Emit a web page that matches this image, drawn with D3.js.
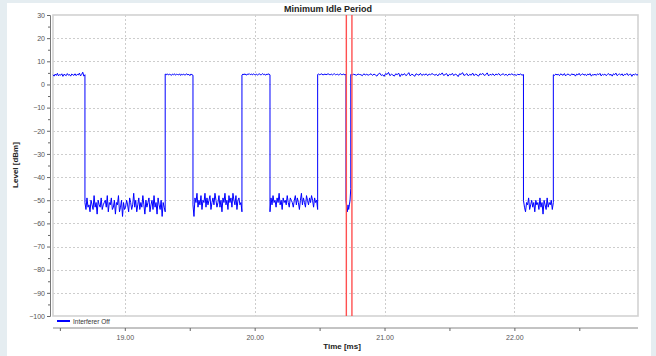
<!DOCTYPE html>
<html><head><meta charset="utf-8">
<script src="https://cdn.jsdelivr.net/npm/d3@7"></script>
<style>
html,body{margin:0;padding:0;background:#e5edf1;}
svg{display:block;font-family:"Liberation Sans",Arial,sans-serif;}
</style></head>
<body>
<svg id="chart" width="656" height="356"></svg>
<script>
// ---- data ----
const title = "Minimum Idle Period";
const xLabel = "Time [ms]";
const yLabel = "Level [dBm]";
const seriesName = "Interferer Off";
const xDomain = [18.447, 22.952];
const yDomain = [-100, 30];
const xTicks = [19, 20, 21, 22];
const xMinorTicks = [18.5, 19.5, 20.5, 21.5, 22.5];
const yTicks = [30, 20, 10, 0, -10, -20, -30, -40, -50, -60, -70, -80, -90, -100];
const markerTimes = [20.706, 20.749];
// segment boundaries (ms)
const segBounds = [18.447, 18.693, 19.311, 19.525, 19.902, 20.118, 20.485, 20.703, 20.740, 22.070, 22.300, 22.952];
// sampled levels (dBm) per segment
const seg1 = [4.2,3.6,4.5,3.9,4.8,3.7,4.3,4.0,4.6,3.5,4.4,4.1,3.8,4.7,4.0,4.3,3.6,4.5,4.2,3.9,4.6,3.8,4.4,4.1,4.9,3.7,4.3,5.3,3.6,4.2];
const seg2 = [-51,-54,-49,-53,-52,-55,-50,-52,-54,-48,-53,-51,-56,-50,-52,-53,-49,-54,-52,-51,-50,-53,-48,-55,-51,-52,-49,-54,-53,-50,-56,-51,-52,-48,-55,-53,-50,-57,-51,-54,
  -53,-50,-52,-55,-49,-51,-54,-52,-47,-53,-50,-55,-52,-49,-54,-51,-53,-48,-52,-56,-50,-53,-51,-49,-55,-52,-50,-54,-48,-53,-51,-56,-49,-52,-54,-50,-57,-51,-53,-55];
const seg3 = [4.5,4.2,4.6,4.1,4.4,4.3,3.9,4.5,4.2,4.6,4.0,4.4,4.3,4.1,4.6,3.9,4.4,4.2,4.5,4.0,4.3,4.6,4.1,4.4,3.8,4.5,4.2,4.0];
const seg4 = [-52,-57,-49,-51,-47,-53,-50,-52,-48,-54,-50,-51,-47,-53,-49,-52,-50,-48,-54,-51,-49,-52,-47,-50,-53,
  -51,-48,-53,-50,-55,-49,-51,-47,-52,-50,-54,-48,-51,-49,-53,-47,-50,-52,-48,-54,-50,-49,-52,-51,-55];
const seg5 = [4.1,4.5,4.2,4.6,4.0,4.4,4.3,4.7,4.2,4.5,4.1,4.6,4.3,4.2,4.5,4.0,4.4,4.6,4.1,4.3,4.7,4.2,4.4,4.0,4.5,4.3,4.6,4.1];
const seg6 = [-55,-49,-52,-48,-51,-50,-53,-49,-51,-47,-52,-50,-54,-49,-51,-50,-52,-48,-51,-53,-49,-50,-51,-53,
  -50,-48,-52,-49,-51,-54,-50,-47,-52,-49,-51,-53,-48,-50,-52,-49,-51,-48,-50,-53,-49,-51,-50,-54];
const seg7 = [4.3,4.5,4.2,4.4,4.6,4.1,4.3,4.5,4.2,4.4,4.6,4.3,4.2,4.5,4.1,4.4,4.6,4.2,4.3,4.5,4.0,4.4,4.6,4.2,4.3,4.5,4.1,4.4];
const seg8 = [-50,-53,-55,-52,-54,-52,-50,-45];
const seg9 = [4.3,4.1,4.4,4.2,4.0,4.5,4.3,4.2,3.8,4.6,4.1,4.4,4.0,4.3,4.6,3.9,4.5,4.1,3.6,4.5,4.9,3.9,4.2,3.5,4.7,4.3,5.2,3.8,4.4,4.1,
  3.6,4.6,4.2,4.9,3.4,4.5,4.0,4.7,3.8,4.3,5.1,3.7,4.4,4.2,3.5,4.6,4.3,4.0,4.8,3.9,4.4,4.1,4.6,3.8,4.5,4.2,4.7,4.3,4.0,4.4,
  3.7,4.6,4.2,5.0,3.9,4.3,4.7,3.6,4.4,4.1,4.8,3.8,4.5,4.2,3.4,4.6,4.3,5.1,3.9,4.2,4.7,3.7,4.4,4.0,4.9,3.8,4.5,4.1,3.6,4.6,
  4.3,4.8,3.9,4.2,5.0,3.7,4.4,4.1,4.6,3.8,4.5,4.2,4.7,3.9,4.3,4.6,4.0,4.4,3.8,4.5,4.2,4.6,4.1,4.3,3.9,4.4,4.2,4.5,4.0,4.3];
const seg10 = [-50,-53,-55,-51,-52,-49,-54,-52,-50,-53,-51,-55,-50,-52,-51,-54,-49,-53,-51,-56,-50,-52,-54,-49,-53,-51,-52,-50,-54,-51];
const seg11 = [4.2,3.9,4.5,4.1,4.4,3.8,4.6,4.2,4.0,4.7,3.7,4.3,4.5,4.1,3.9,4.6,4.2,4.4,3.6,4.5,4.1,4.8,3.9,4.3,4.6,4.0,4.4,3.8,4.5,4.2,4.7,3.6,4.3,4.1,4.4,
  3.9,4.6,4.2,4.8,3.7,4.4,4.1,4.5,3.8,4.3,4.7,4.0,4.4,3.6,4.6,4.2,4.9,3.8,4.3,4.5,4.0,4.6,3.7,4.4,4.2,4.8,3.9,4.3,4.5,3.5,4.4,4.1,4.6,4.0,4.3];
const segValues = [seg1, seg2, seg3, seg4, seg5, seg6, seg7, seg8, seg9, seg10, seg11];

// ---- build points ----
const points = [];
segValues.forEach((vals, i) => {
  const t0 = segBounds[i], t1 = segBounds[i + 1];
  const n = vals.length;
  vals.forEach((v, j) => points.push({t: t0 + (t1 - t0) * j / (n - 1), v}));
});

// ---- layout ----
const svg = d3.select("#chart");
const L = 53, R = 638, T = 15, B = 316;
const x = d3.scaleLinear().domain(xDomain).range([L, R]);
const y = d3.scaleLinear().domain(yDomain).range([B, T]);

// white panel
svg.append("rect").attr("x", 7).attr("y", 3).attr("width", 644).attr("height", 353).attr("fill", "#fff");

// grid
const grid = svg.append("g").attr("stroke", "#cdcdcd").attr("stroke-width", 1).attr("stroke-dasharray", "2,2");
yTicks.filter(d => d > yDomain[0] && d < yDomain[1]).forEach(d => {
  grid.append("line").attr("x1", L).attr("x2", R).attr("y1", Math.round(y(d)) + 0.5).attr("y2", Math.round(y(d)) + 0.5);
});
xTicks.forEach(d => {
  grid.append("line").attr("y1", T).attr("y2", B).attr("x1", Math.round(x(d)) + 0.5).attr("x2", Math.round(x(d)) + 0.5);
});

// plot frame
svg.append("rect").attr("x", L).attr("y", T).attr("width", R - L).attr("height", B - T)
  .attr("fill", "none").attr("stroke", "#d2d2d2").attr("stroke-width", 1.6);

// series
const line = d3.line().x(d => x(d.t)).y(d => y(d.v));
svg.append("path").datum(points).attr("d", line).attr("fill", "none")
  .attr("stroke", "#0000ff").attr("stroke-width", 1);

// markers
markerTimes.forEach(t => {
  svg.append("line").attr("x1", x(t)).attr("x2", x(t)).attr("y1", T).attr("y2", B)
    .attr("stroke", "#ff5050").attr("stroke-width", 1.4);
});

// y axis
const yAxis = d3.axisLeft(y).tickValues(yTicks).tickFormat(d3.format("d")).tickSize(3).tickPadding(2);
const gy = svg.append("g").attr("transform", "translate(50,0)").call(yAxis);
gy.select(".domain").attr("stroke", "#777");
gy.selectAll(".tick line").attr("stroke", "#666");
gy.selectAll("text").attr("font-size", 7).attr("fill", "#555").attr("font-family", "Liberation Sans, Arial, sans-serif");
const yMinor = d3.axisLeft(y).tickValues(d3.range(-95, 30, 10)).tickFormat("").tickSize(2);
const gym = svg.append("g").attr("transform", "translate(50,0)").call(yMinor);
gym.select(".domain").remove();
gym.selectAll(".tick line").attr("stroke", "#666");

// x axis
const xAxis = d3.axisBottom(x).tickValues(xTicks).tickFormat(d3.format(".2f")).tickSize(3).tickPadding(4);
const gx = svg.append("g").attr("transform", "translate(0,328)").call(xAxis);
gx.select(".domain").attr("stroke", "#888").attr("d", `M${L},0H${R}`);
gx.selectAll(".tick line").attr("stroke", "#666");
gx.selectAll("text").attr("font-size", 7).attr("fill", "#555").attr("font-family", "Liberation Sans, Arial, sans-serif");
const xMinor = d3.axisBottom(x).tickValues(xMinorTicks).tickFormat("").tickSize(3);
const gxm = svg.append("g").attr("transform", "translate(0,328)").call(xMinor);
gxm.select(".domain").remove();
gxm.selectAll(".tick line").attr("stroke", "#666");

// titles
svg.append("text").attr("x", 328).attr("y", 12).attr("text-anchor", "middle")
  .attr("font-size", 9).attr("font-weight", "bold").attr("fill", "#222").text(title);
svg.append("text").attr("x", 342).attr("y", 349).attr("text-anchor", "middle")
  .attr("font-size", 8).attr("font-weight", "bold").attr("fill", "#222").text(xLabel);
svg.append("text").attr("transform", "translate(18,165) rotate(-90)").attr("text-anchor", "middle")
  .attr("font-size", 8).attr("font-weight", "bold").attr("fill", "#222").text(yLabel);

// legend
svg.append("line").attr("x1", 57).attr("x2", 70).attr("y1", 321).attr("y2", 321)
  .attr("stroke", "#0000ff").attr("stroke-width", 2);
svg.append("text").attr("x", 73).attr("y", 323.5).attr("font-size", 6.5).attr("fill", "#333").text(seriesName);
</script>
</body></html>
